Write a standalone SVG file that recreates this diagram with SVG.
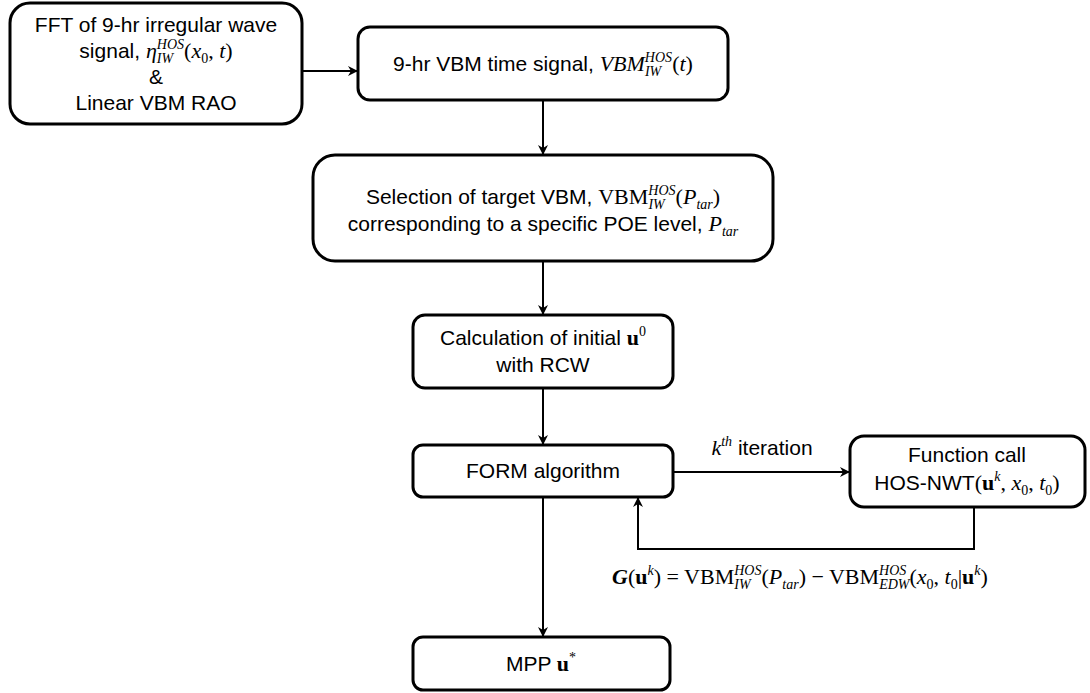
<svg xmlns="http://www.w3.org/2000/svg" width="1090" height="693" viewBox="0 0 1090 693">
<style>
.box{fill:#fff;stroke:#000;stroke-width:3}
.t{font-family:"Liberation Sans",Arial,sans-serif;font-size:21px;fill:#000}
.m{font-family:"Liberation Serif","Times New Roman",serif;font-style:italic;font-size:22px}
.r{font-family:"Liberation Serif","Times New Roman",serif;font-style:normal;font-size:22px}
.b{font-family:"Liberation Serif","Times New Roman",serif;font-weight:bold;font-style:normal;font-size:22px}
.bi{font-family:"Liberation Serif","Times New Roman",serif;font-weight:bold;font-style:italic;font-size:22px}
.m.s,.r.s{font-size:14px}
.c{fill:none;stroke:#000;stroke-width:2}
</style>
<defs>
<marker id="ah" viewBox="0 0 10 10" refX="9" refY="5" markerWidth="5" markerHeight="5" orient="auto" markerUnits="strokeWidth">
<path d="M0,0 L10,5 L0,10 L3,5 z" fill="#000"/>
</marker>
</defs>
<g id="connectors">
<line class="c" x1="302" y1="71" x2="357" y2="71" marker-end="url(#ah)"/>
<line class="c" x1="543" y1="100" x2="543" y2="154" marker-end="url(#ah)"/>
<line class="c" x1="543" y1="261" x2="543" y2="314" marker-end="url(#ah)"/>
<line class="c" x1="543" y1="388" x2="543" y2="444" marker-end="url(#ah)"/>
<line class="c" x1="673" y1="472" x2="849" y2="472" marker-end="url(#ah)"/>
<polyline class="c" points="974,507 974,549 638,549 638,498" marker-end="url(#ah)"/>
<line class="c" x1="543" y1="497" x2="543" y2="636" marker-end="url(#ah)"/>
<text class="t" x="762" y="455" text-anchor="middle"><tspan class="m">k</tspan><tspan class="m s" dy="-9">th</tspan><tspan dy="9"> iteration</tspan></text>
<text class="t" x="800" y="584" text-anchor="middle"><tspan class="bi">G</tspan><tspan class="r">(</tspan><tspan class="b">u</tspan><tspan class="m s" dy="-9">k</tspan><tspan class="r" dy="9">) = VBM</tspan><tspan class="m s" dy="-9">HOS</tspan><tspan class="m s" dx="-27.2" dy="14">IW</tspan><tspan class="r" dx="10.9" dy="-5">(</tspan><tspan class="m">P</tspan><tspan class="m s" dy="5">tar</tspan><tspan class="r" dy="-5">) − VBM</tspan><tspan class="m s" dy="-9">HOS</tspan><tspan class="m s" dx="-27.2" dy="14">EDW</tspan><tspan class="r" dy="-5">(</tspan><tspan class="m">x</tspan><tspan class="r s" dy="5">0</tspan><tspan class="r" dy="-5">, </tspan><tspan class="m">t</tspan><tspan class="r s" dy="5">0</tspan><tspan class="r" dy="-5">|</tspan><tspan class="b">u</tspan><tspan class="m s" dy="-9">k</tspan><tspan class="r" dy="9">)</tspan></text>
</g>
<g id="n1">
<rect class="box" x="10" y="3" width="292" height="121" rx="20"/>
<text class="t" x="156" y="32" text-anchor="middle">FFT of 9-hr irregular wave</text>
<text class="t" x="156" y="58" text-anchor="middle">signal, <tspan class="m">η</tspan><tspan class="m s" dy="-9">HOS</tspan><tspan class="m s" dx="-27.2" dy="14">IW</tspan><tspan class="r" dx="10.9" dy="-5">(</tspan><tspan class="m">x</tspan><tspan class="r s" dy="5">0</tspan><tspan class="r" dy="-5">, </tspan><tspan class="m">t</tspan><tspan class="r">)</tspan></text>
<text class="t" x="156" y="84" text-anchor="middle">&amp;</text>
<text class="t" x="156" y="110" text-anchor="middle">Linear VBM RAO</text>
</g>
<g id="n2">
<rect class="box" x="358" y="27" width="370" height="73" rx="12"/>
<text class="t" x="543" y="71" text-anchor="middle">9-hr VBM time signal, <tspan class="m">VBM</tspan><tspan class="m s" dy="-9">HOS</tspan><tspan class="m s" dx="-27.2" dy="14">IW</tspan><tspan class="r" dx="10.9" dy="-5">(</tspan><tspan class="m">t</tspan><tspan class="r">)</tspan></text>
</g>
<g id="n3">
<rect class="box" x="313" y="155" width="460" height="106" rx="22"/>
<text class="t" x="543" y="204" text-anchor="middle">Selection of target VBM, <tspan class="r">VBM</tspan><tspan class="m s" dy="-9">HOS</tspan><tspan class="m s" dx="-27.2" dy="14">IW</tspan><tspan class="r" dx="10.9" dy="-5">(</tspan><tspan class="m">P</tspan><tspan class="m s" dy="5">tar</tspan><tspan class="r" dy="-5">)</tspan></text>
<text class="t" x="543" y="231" text-anchor="middle">corresponding to a specific POE level, <tspan class="m">P</tspan><tspan class="m s" dy="5">tar</tspan></text>
</g>
<g id="n4">
<rect class="box" x="413" y="315" width="260" height="73" rx="12"/>
<text class="t" x="543" y="345" text-anchor="middle">Calculation of initial <tspan class="b">u</tspan><tspan class="r s" dy="-9">0</tspan></text>
<text class="t" x="543" y="372" text-anchor="middle">with RCW</text>
</g>
<g id="n5">
<rect class="box" x="413" y="445" width="260" height="52" rx="10"/>
<text class="t" x="543" y="478" text-anchor="middle">FORM algorithm</text>
</g>
<g id="n6">
<rect class="box" x="850" y="436" width="235" height="71" rx="14"/>
<text class="t" x="967" y="462" text-anchor="middle">Function call</text>
<text class="t" x="967" y="490" text-anchor="middle">HOS-NWT<tspan class="r">(</tspan><tspan class="b">u</tspan><tspan class="m s" dy="-9">k</tspan><tspan class="r" dy="9">, </tspan><tspan class="m">x</tspan><tspan class="r s" dy="5">0</tspan><tspan class="r" dy="-5">, </tspan><tspan class="m">t</tspan><tspan class="r s" dy="5">0</tspan><tspan class="r" dy="-5">)</tspan></text>
</g>
<g id="n7">
<rect class="box" x="413" y="637" width="257" height="53" rx="10"/>
<text class="t" x="541" y="671" text-anchor="middle">MPP <tspan class="b">u</tspan><tspan class="r s" dy="-9">*</tspan></text>
</g>
</svg>
